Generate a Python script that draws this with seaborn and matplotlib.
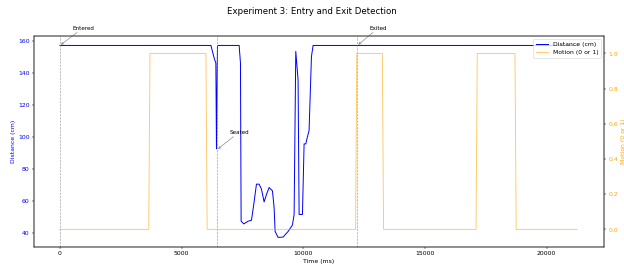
import matplotlib
matplotlib.use("Agg")
import matplotlib.pyplot as plt
import seaborn as sns
import pandas as pd

# ---- data ----
dist_time = [0, 6205, 6340, 6408, 6433, 6474, 6500, 7365, 7419, 7446, 7556, 7733,
             7872, 7967, 8076, 8186, 8282, 8391, 8487, 8597, 8734, 8802, 8843,
             8966, 9172, 9377, 9555, 9624, 9692, 9787, 9829, 9966, 10034, 10103,
             10171, 10239, 10336, 10404, 21300]
dist_cm = [157, 157, 149, 146, 92.5, 156.4, 157, 157, 146, 47.4, 45.7, 47.4,
           48, 58, 70.5, 70.5, 67.4, 59.4, 64, 68.4, 66.3, 55.8, 41,
           37.3, 37.5, 41, 45, 51.6, 153.3, 135.5, 51.6, 51.6, 95.6, 95.6,
           100, 104, 150, 157, 157]

motion_time = [0, 3650, 3700, 6000, 6050, 12150, 12200, 13250, 13300,
               17100, 17150, 18700, 18750, 21260]
motion_val = [0, 0, 1, 1, 0, 0, 1, 1, 0, 0, 1, 1, 0, 0]

event_labels = ["Entered", "Seated", "Exited"]
event_time = [0, 6460, 12225]
event_dist = [157, 92, 157]

title = "Experiment 3: Entry and Exit Detection"

dist_df = pd.DataFrame({"Time (ms)": dist_time, "Distance (cm)": dist_cm})
motion_df = pd.DataFrame({"Time (ms)": motion_time, "Motion (0 or 1)": motion_val})

fig = plt.figure(figsize=(14, 6.06), dpi=44.58)
ax = fig.add_axes([0.0545, 0.0852, 0.9135, 0.7815])
ax2 = ax.twinx()

sns.lineplot(data=dist_df, x="Time (ms)", y="Distance (cm)", ax=ax, color="blue",
             estimator=None, sort=False, label="Distance (cm)", linewidth=1.6)
sns.lineplot(data=motion_df, x="Time (ms)", y="Motion (0 or 1)", ax=ax2, color="orange",
             alpha=0.6, estimator=None, sort=False, label="Motion (0 or 1)", linewidth=1.5)

for a in (ax, ax2):
    lg = a.get_legend()
    if lg is not None:
        lg.remove()

for lbl, t, d in zip(event_labels, event_time, event_dist):
    ax.axvline(t, color="gray", linestyle="--", linewidth=1, alpha=0.8)
    ax.annotate(lbl, xy=(t, d), xytext=(t + 500, d + 10), textcoords="data",
                fontsize=9, color="black", annotation_clip=False,
                arrowprops=dict(arrowstyle="->", color="gray"))

ax2.set_ylim(-0.1, 1.1)

ax.set_xlabel("Time (ms)")
ax.set_ylabel("Distance (cm)", color="blue")
ax.tick_params(axis="y", labelcolor="blue")
ax2.set_ylabel("Motion (0 or 1)", color="orange")
ax2.tick_params(axis="y", labelcolor="orange")

h1, l1 = ax.get_legend_handles_labels()
h2, l2 = ax2.get_legend_handles_labels()
ax2.legend(h1 + h2, l1 + l2, loc="upper right")

fig.text(0.5, 0.956, title, ha="center", va="center", fontsize=14)

fig.savefig("out.png", dpi=44.58)
